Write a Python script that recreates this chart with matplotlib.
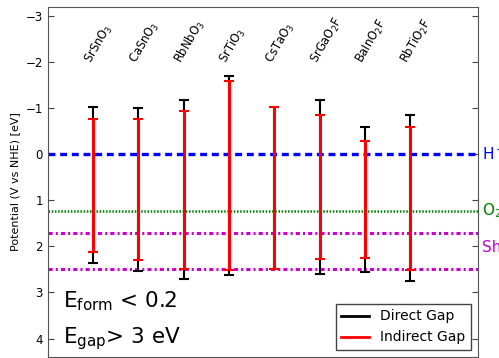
import numpy as np
import matplotlib
matplotlib.use("Agg")
import matplotlib.pyplot as plt
from matplotlib.lines import Line2D

plt.rcParams["lines.scale_dashes"] = False

compounds = ["SrSnO$_3$", "CaSnO$_3$", "RbNbO$_3$", "SrTiO$_3$",
             "CsTaO$_3$", "SrGaO$_2$F", "BaInO$_2$F", "RbTiO$_2$F"]

# band edges on the potential scale (V vs NHE)
cbm_direct = [-1.02, -1.01, -1.19, -1.70, -1.03, -1.19, -0.59, -0.86]
vbm_direct = [2.36, 2.54, 2.70, 2.61, 2.49, 2.59, 2.56, 2.76]
cbm_indirect = [-0.77, -0.76, -0.95, -1.59, -1.03, -0.86, -0.30, -0.59]
vbm_indirect = [2.12, 2.29, 2.49, 2.51, 2.49, 2.28, 2.26, 2.51]

# reference potentials
h_level = 0.0
o2_level = 1.23
shift_levels = [1.7, 2.5]

fig = plt.figure(figsize=(4.99, 3.58), dpi=100)
ax = fig.add_axes([0.096, 0.003, 0.862, 0.977])

x = np.arange(1, len(compounds) + 1)

def draw_gap(cbm, vbm, color, lw, zorder):
    cbm = np.array(cbm)
    vbm = np.array(vbm)
    mid = (cbm + vbm) / 2
    half = (vbm - cbm) / 2
    ax.errorbar(x, mid, yerr=half, fmt="none", ecolor=color, elinewidth=lw,
                capsize=3.6, capthick=1.5, zorder=zorder)

draw_gap(cbm_direct, vbm_direct, "black", 1.5, 3)
draw_gap(cbm_indirect, vbm_indirect, "red", 2.2, 4)

ax.axhline(h_level, color="blue", lw=2.4, ls=(0, (5, 3.4)), zorder=2)
ax.axhline(o2_level, color="green", lw=1.8, ls=(0, (1.1, 1.2)), zorder=2)
for lv in shift_levels:
    ax.axhline(lv, color="#cc00cc", lw=2.2, ls=(0, (3, 2.2, 1.5, 2.2)), zorder=2)

ax.set_xlim(0, 9.5)
ax.set_ylim(4.4, -3.2)
ax.set_xticks([])
ax.set_yticks([-3, -2, -1, 0, 1, 2, 3, 4])
ax.tick_params(axis="y", direction="in", right=True, labelsize=8.5, length=4,
               color="#444444")
ax.set_ylabel("Potential (V vs NHE) [eV]", fontsize=8)
for s in ax.spines.values():
    s.set_color("#555555")

for xi, name in zip(x, compounds):
    ax.text(xi + 0.03, -1.92, name, rotation=60, ha="left", va="bottom",
            fontsize=8.3, rotation_mode="anchor")

ax.text(9.58, h_level, "H$^+$/H$_2$", color="blue", fontsize=11,
        va="center", ha="left", clip_on=False)
ax.text(9.58, o2_level, "O$_2$/H$_2$O", color="green", fontsize=11,
        va="center", ha="left", clip_on=False)
ax.text(9.58, 2.02, "Shift", color="#cc00cc", fontsize=11,
        va="center", ha="left", clip_on=False)

ax.text(0.33, 3.32, "E$_{\\rm form}$ < 0.2", fontsize=15.5, va="baseline")
ax.text(0.33, 4.11, "E$_{\\rm gap}$> 3 eV", fontsize=15.5, va="baseline")

handles = [Line2D([], [], color="black", lw=2), Line2D([], [], color="red", lw=2)]
leg = ax.legend(handles, ["Direct Gap", "Indirect Gap"], loc="lower right",
                fontsize=10, fancybox=False, framealpha=1, borderaxespad=0.5)
leg.get_frame().set_edgecolor("#444444")

fig.savefig("out.png", dpi=100)
